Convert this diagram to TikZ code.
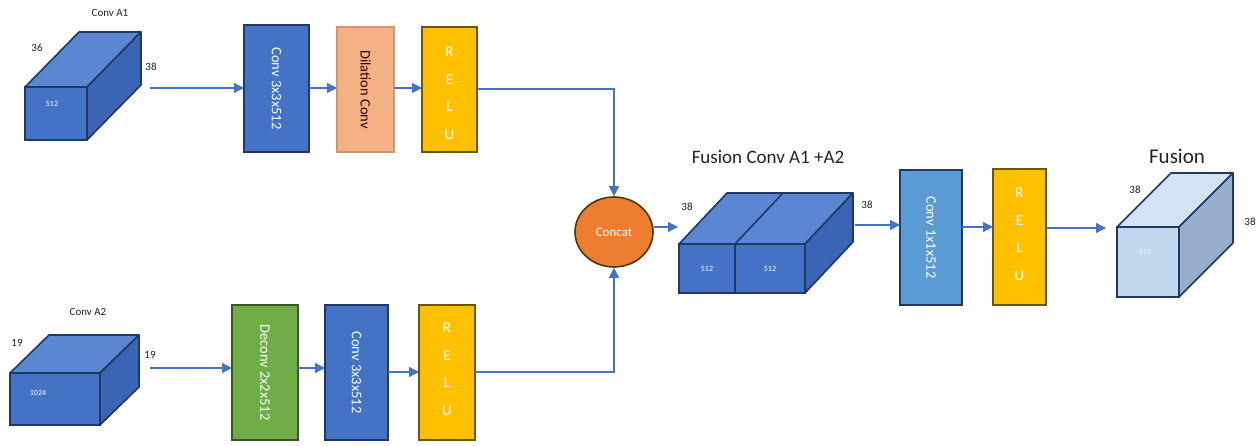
\documentclass[tikz,border=0pt]{standalone}
\usepackage{fontspec}
\setmainfont{Carlito}
\usetikzlibrary{arrows.meta,shapes.geometric}
\definecolor{cblue}{HTML}{4472C4}
\definecolor{cbluetop}{HTML}{5A86D2}
\definecolor{cblueside}{HTML}{3A64B4}
\definecolor{navy}{HTML}{1F3864}
\definecolor{lblue}{HTML}{5B9BD5}
\definecolor{salmon}{HTML}{F4B183}
\definecolor{gold}{HTML}{FFC000}
\definecolor{goldline}{HTML}{6B5410}
\definecolor{cgreen}{HTML}{70AD47}
\definecolor{greenline}{HTML}{385723}
\definecolor{corange}{HTML}{ED7D31}
\definecolor{fusfront}{HTML}{C2D6EE}
\definecolor{fustop}{HTML}{D3E2F4}
\definecolor{fusside}{HTML}{97AECB}
\definecolor{arrowc}{HTML}{4472C4}
\definecolor{txt}{HTML}{222222}
\newcommand{\cubefaces}[5]{%
  \filldraw[#4,draw=navy,line width=1.6pt,line join=round] (#1.north west) -- ++(#2,#3) -- ([shift={(#2,#3)}]#1.north east) -- (#1.north east) -- cycle;
  \filldraw[#5,draw=navy,line width=1.6pt,line join=round] (#1.north east) -- ++(#2,#3) -- ([shift={(#2,#3)}]#1.south east) -- (#1.south east) -- cycle;}
\begin{document}
\begin{tikzpicture}[x=1pt,y=-1pt,
  face/.style={draw=navy,line width=1.6pt,inner sep=0pt,outer sep=0pt,fill=cblue,text=white,font=\fontsize{8}{9}\selectfont},
  layerbox/.style={draw=navy,line width=1.6pt,inner sep=0pt,outer sep=0pt,fill=cblue},
  relubox/.style={draw=goldline,line width=1.6pt,inner sep=0pt,outer sep=0pt,fill=gold,text=white,align=center,font=\fontsize{15}{27.5}\selectfont},
  boxtext/.style={rotate=-90,text=white,font=\fontsize{14.5}{16}\selectfont,inner sep=0pt},
  small/.style={text=txt,font=\fontsize{11}{12}\selectfont,inner sep=0pt},
  big/.style={text=txt,font=\fontsize{19}{21}\selectfont,inner sep=0pt},
  flow/.style={draw=arrowc,line width=1.2pt,-{Triangle[length=10pt,width=10pt]}}]
\useasboundingbox[fill=white] (0,0) rectangle (1259,446);

% ---- Conv A1 cube
\node[face,minimum width=62pt,minimum height=53pt] (a1) at (56,113.5) {};
\cubefaces{a1}{54}{-55}{cbluetop}{cblueside}
\node[face,draw=none,fill=none] (a1t) at (52,104) {512};
\node[small] (la1) at (110,13) {Conv A1};
\node[small] (la1d) at (37,48) {36};
\node[small] (la1w) at (151,67) {38};
\coordinate (a1out) at (150,88);

% ---- top branch
\node[layerbox,minimum width=65pt,minimum height=127pt] (c1) at (276.5,88.5) {};
\node[boxtext] (c1t) at (c1) {Conv 3x3x512};
\node[layerbox,fill=salmon,draw=salmon!85!black,minimum width=57pt,minimum height=125pt] (dil) at (365.5,89.5) {};
\node[boxtext,text=black!70!red!60!black] (dilt) at (dil) {Dilation Conv};
\node[relubox,minimum width=55pt,minimum height=125pt] (r1) at (449.5,89.5) {};
\node[relubox,draw=none,fill=none] (r1t) at (449.5,93) {R\\E\\L\\U};

% ---- Conv A2 cube
\node[face,minimum width=90pt,minimum height=52pt] (a2) at (55,399) {};
\cubefaces{a2}{39}{-38}{cbluetop}{cblueside}
\node[face,draw=none,fill=none] (a2t) at (38,393) {1024};
\node[small] (la2) at (88,312) {Conv A2};
\node[small] (la2d) at (17,343) {19};
\node[small] (la2w) at (150,355) {19};
\coordinate (a2out) at (150,368);

% ---- bottom branch
\node[layerbox,fill=cgreen,draw=greenline,minimum width=66pt,minimum height=135pt] (dc) at (265,372.5) {};
\node[boxtext] (dct) at (dc) {Deconv 2x2x512};
\node[layerbox,minimum width=63pt,minimum height=135pt] (c2) at (356.5,372.5) {};
\node[boxtext] (c2t) at (c2) {Conv 3x3x512};
\node[relubox,minimum width=56pt,minimum height=135pt] (r2) at (447,372.5) {};
\node[relubox,draw=none,fill=none] (r2t) at (447,369) {R\\E\\L\\U};

% ---- concat
\node[ellipse,draw=goldline!70!black,line width=1.6pt,fill=corange,minimum width=78pt,minimum height=70pt,inner sep=0pt,text=white,font=\fontsize{13}{14}\selectfont] (cc) at (614,232) {Concat};

% ---- fusion block
\node[face,minimum width=56pt,minimum height=49pt] (fl) at (707,268.5) {512};
\node[face,minimum width=70pt,minimum height=49pt] (fr) at (770,268.5) {512};
\filldraw[cbluetop,draw=navy,line width=1.6pt,line join=round] (fl.north west) -- ++(48,-51) -- ([shift={(48,-51)}]fr.north east) -- (fr.north east) -- cycle;
\filldraw[cblueside,draw=navy,line width=1.6pt,line join=round] (fr.north east) -- ++(48,-51) -- ([shift={(48,-51)}]fr.south east) -- (fr.south east) -- cycle;
\draw[navy,line width=1.6pt] (fr.north west) -- ++(48,-51);
\node[big] (lfus) at (768,157) {Fusion Conv A1 +A2};
\node[small] (lf1) at (687,207) {38};
\node[small] (lf2) at (867,205) {38};
\coordinate (fin) at (678,227);
\coordinate (fout) at (855,225);

% ---- fusion branch
\node[layerbox,fill=lblue,minimum width=62pt,minimum height=135pt] (c3) at (931,237.5) {};
\node[boxtext] (c3t) at (c3) {Conv 1x1x512};
\node[relubox,minimum width=53pt,minimum height=136pt] (r3) at (1019.5,237) {};
\node[relubox,draw=none,fill=none] (r3t) at (1019.5,234) {R\\E\\L\\U};

% ---- Fusion cube
\node[face,fill=fusfront,minimum width=62pt,minimum height=70pt] (fc) at (1148,262) {};
\cubefaces{fc}{54}{-54}{fustop}{fusside}
\node[face,draw=none,fill=none,text=white!85!fusfront] (fct) at (1145,252) {512};
\node[big,font=\fontsize{21}{23}\selectfont] (lfc) at (1177,156) {Fusion};
\node[small] (lfc1) at (1135,190) {38};
\node[small] (lfc2) at (1250,222) {38};
\coordinate (fcin) at (1106,228);

% ---- connectors
\draw[flow] (a1out) -- (a1out -| c1.west);
\draw[flow] (c1.east |- 0,88) -- (dil.west |- 0,88);
\draw[flow] (dil.east |- 0,88) -- (r1.west |- 0,88);
\draw[flow] (r1.east |- 0,89) -| (cc.north);
\draw[flow] (a2out) -- (a2out -| dc.west);
\draw[flow] (dc.east |- 0,368) -- (c2.west |- 0,368);
\draw[flow] (c2.east |- 0,372) -- (r2.west |- 0,372);
\draw[flow] (r2.east |- 0,372) -| (cc.south);
\draw[flow] (cc.east |- fin) -- (fin);
\draw[flow] (fout) -- (fout -| c3.west);
\draw[flow] (c3.east |- 0,227) -- (r3.west |- 0,227);
\draw[flow] (r3.east |- fcin) -- (fcin);
\end{tikzpicture}
\end{document}
